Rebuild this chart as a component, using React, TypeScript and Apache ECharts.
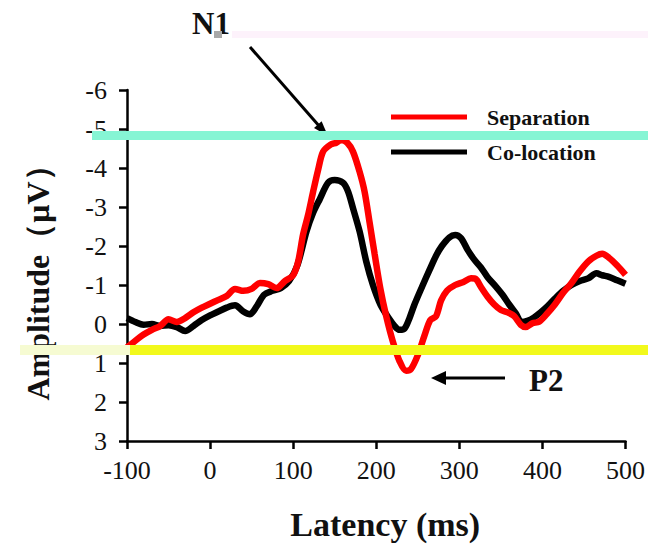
import React, { useEffect, useRef } from "react";
import * as echarts from "echarts";

const latencyCo = [-100, -90, -80, -70, -60, -50, -40, -30, -20, -10, 0, 10, 20, 30, 40, 48, 56, 65, 75, 85, 95, 105, 116, 124, 132, 142, 150, 160, 166, 172, 180, 188, 196, 205, 215, 222, 228, 234, 240, 246, 255, 264, 272, 279, 288, 295, 302, 310, 318, 326, 334, 344, 352, 360, 368, 375, 382, 390, 398, 406, 415, 425, 435, 445, 455, 465, 472, 480, 490, 500];
const coLocation = [-0.15, -0.05, 0.02, 0.0, 0.05, 0.03, 0.08, 0.18, 0.05, -0.1, -0.22, -0.32, -0.42, -0.48, -0.32, -0.25, -0.45, -0.75, -0.85, -0.92, -1.1, -1.5, -2.37, -2.85, -3.2, -3.62, -3.69, -3.62, -3.4, -2.97, -2.37, -1.6, -1.0, -0.5, -0.15, 0.05, 0.15, 0.12, -0.15, -0.5, -0.95, -1.38, -1.75, -2.0, -2.22, -2.28, -2.2, -1.9, -1.65, -1.45, -1.2, -0.96, -0.75, -0.5, -0.27, -0.05, -0.08, -0.17, -0.3, -0.45, -0.65, -0.85, -1.0, -1.1, -1.17, -1.3, -1.25, -1.21, -1.12, -1.03];

const latencySep = [-100, -90, -80, -70, -60, -50, -40, -30, -20, -10, 0, 10, 20, 30, 40, 50, 60, 70, 80, 90, 100, 106, 112, 118, 124, 130, 136, 145, 152, 158, 165, 172, 180, 186, 192, 198, 205, 212, 220, 228, 236, 242, 250, 258, 265, 272, 278, 285, 295, 305, 314, 320, 326, 334, 342, 350, 358, 366, 374, 380, 388, 396, 405, 415, 425, 435, 445, 455, 465, 472, 480, 490, 500];
const separation = [0.6, 0.43, 0.27, 0.15, 0.05, -0.12, -0.05, -0.15, -0.3, -0.42, -0.52, -0.62, -0.72, -0.9, -0.85, -0.9, -1.05, -1.02, -0.92, -1.1, -1.25, -1.6, -2.3, -2.8, -3.39, -3.95, -4.42, -4.6, -4.65, -4.72, -4.65, -4.42, -3.9, -3.39, -2.6, -1.8, -0.9, -0.2, 0.45, 0.95, 1.2, 1.15, 0.8, 0.3, -0.1, -0.2, -0.6, -0.85, -1.0, -1.08, -1.17, -1.15, -0.95, -0.7, -0.5, -0.36, -0.3, -0.2, 0.02, 0.08, -0.02, -0.06, -0.25, -0.5, -0.8, -1.05, -1.35, -1.6, -1.75, -1.8, -1.7, -1.5, -1.26];

const seriesNames = ["Separation", "Co-location"];
const xTicks = { min: -100, max: 500, step: 100 };
const yTicks = { min: -6, max: 3, step: 1 };

const SERIF = "'Liberation Serif', 'Times New Roman', serif";

export default function App() {
  const ref = useRef<HTMLDivElement>(null);
  useEffect(() => {
    if (!ref.current) return;
    const chart = echarts.init(ref.current, null, { renderer: "svg" });
    const pair = (xs: number[], ys: number[]) => xs.map((x, i) => [x, ys[i]]);
    chart.setOption({
      animation: false,
      backgroundColor: "#ffffff",
      grid: { left: 127, right: 22, top: 90, bottom: 106 },
      legend: {
        data: seriesNames,
        orient: "vertical",
        left: 386,
        top: 101,
        itemWidth: 76,
        itemHeight: 5,
        itemGap: 13,
        icon: "rect",
        textStyle: { fontFamily: SERIF, fontWeight: "bold", fontSize: 22, color: "#111", padding: [0, 0, 0, 15] },
      },
      xAxis: {
        type: "value",
        min: xTicks.min,
        max: xTicks.max,
        interval: xTicks.step,
        name: "Latency (ms)",
        nameLocation: "middle",
        nameGap: 66,
        nameTextStyle: { fontFamily: SERIF, fontWeight: "bold", fontSize: 34, color: "#111", padding: [0, 0, 0, 18] },
        axisLine: { show: true, onZero: false, lineStyle: { color: "#000", width: 2.5 } },
        axisTick: { show: true, length: 8, lineStyle: { color: "#000", width: 2.5 } },
        axisLabel: { fontFamily: SERIF, fontSize: 26, color: "#111", margin: 16 },
        splitLine: { show: false },
      },
      yAxis: {
        type: "value",
        inverse: true,
        min: yTicks.min,
        max: yTicks.max,
        interval: yTicks.step,
        axisLine: { show: true, onZero: false, lineStyle: { color: "#000", width: 2.5 } },
        axisTick: { show: true, length: 8, lineStyle: { color: "#000", width: 2.5 } },
        axisLabel: { fontFamily: SERIF, fontSize: 26, color: "#111", margin: 20 },
        splitLine: { show: false },
      },
      series: [
        {
          name: "Co-location",
          type: "line",
          data: pair(latencyCo, coLocation),
          showSymbol: false,
          smooth: 0.3,
          color: "#000000",
          lineStyle: { color: "#000000", width: 6.5 },
          z: 2,
        },
        {
          name: "Separation",
          type: "line",
          data: pair(latencySep, separation),
          showSymbol: false,
          smooth: 0.3,
          color: "#ff0000",
          lineStyle: { color: "#ff0000", width: 6.5 },
          z: 3,
        },
      ],
      graphic: [
        {
          type: "text",
          x: 38,
          y: 275,
          rotation: Math.PI / 2,
          style: {
            text: "Amplitude（μV）",
            fontFamily: SERIF,
            fontWeight: "bold",
            fontSize: 32,
            fill: "#111",
            align: "center",
            verticalAlign: "middle",
          },
        },
        {
          type: "text",
          x: 192,
          y: 23,
          style: { text: "N1", fontFamily: SERIF, fontWeight: "bold", fontSize: 31, fill: "#111", verticalAlign: "middle" },
        },
        { type: "line", shape: { x1: 250, y1: 47, x2: 320, y2: 127 }, style: { stroke: "#000", lineWidth: 3 } },
        { type: "polygon", shape: { points: [[328, 136], [314, 128], [321.6, 121.2]] }, style: { fill: "#000" } },
        { type: "line", shape: { x1: 505, y1: 378, x2: 442, y2: 378 }, style: { stroke: "#000", lineWidth: 3 } },
        { type: "polygon", shape: { points: [[431, 378], [446, 371], [446, 385]] }, style: { fill: "#000" } },
        {
          type: "text",
          x: 529,
          y: 380,
          style: { text: "P2", fontFamily: SERIF, fontWeight: "bold", fontSize: 31, fill: "#111", verticalAlign: "middle" },
        },
        { type: "rect", z: 100, shape: { x: 232, y: 31, width: 416, height: 7 }, style: { fill: "#fdf2fb" } },
        { type: "rect", z: 100, shape: { x: 214, y: 31, width: 8, height: 7 }, style: { fill: "#a8a8a8" } },
        { type: "rect", z: 100, shape: { x: 92, y: 131, width: 556, height: 9 }, style: { fill: "#86f5d4" } },
        { type: "rect", z: 100, shape: { x: 20, y: 345, width: 110, height: 10 }, style: { fill: "#f6fbd2" } },
        { type: "rect", z: 100, shape: { x: 130, y: 345, width: 518, height: 10 }, style: { fill: "#f2f91c" } },
      ],
    });
    return () => chart.dispose();
  }, []);
  return <div ref={ref} style={{ position: "fixed", left: 0, top: 0, width: 648, height: 547 }} />;
}
